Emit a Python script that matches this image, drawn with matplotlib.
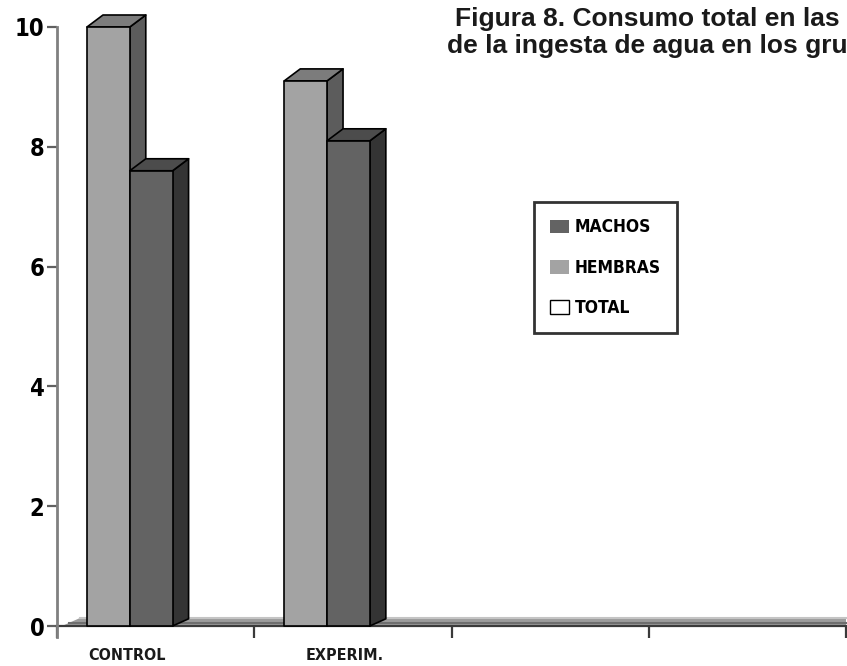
import matplotlib
matplotlib.use('Agg')
import matplotlib.pyplot as plt
from matplotlib.patches import Polygon, Patch

# data
groups = ['CONTROL', 'EXPERIM.', '', '']
hembras = [10.0, 9.1]
machos = [7.6, 8.1]
series_names = ['MACHOS', 'HEMBRAS', 'TOTAL']
yticks = [0, 2, 4, 6, 8, 10]
title_lines = ['Figura 8. Consumo total en las semanas',
               'de la ingesta de agua en los grupos']

# colours: front, top, side
c_hem = ['#a3a3a3', '#7c7c7c', '#5c5c5c']
c_mac = ['#636363', '#4c4c4c', '#343434']

W, H = 847, 666
fig = plt.figure(figsize=(W / 100, H / 100), dpi=100)
ax = fig.add_axes([57 / W, 40 / H, 789 / W, 599 / H])
ax.set_xlim(0, len(groups))
ax.set_ylim(0, 10)

# depth offsets in data units
px_x = 789 / len(groups)
px_y = 599 / 10
ddx = 16 / px_x
ddy = 12 / px_y

def bar3d(x0, w, h, cols, z):
    front = [(x0, 0), (x0 + w, 0), (x0 + w, h), (x0, h)]
    top = [(x0, h), (x0 + w, h), (x0 + w + ddx, h + ddy), (x0 + ddx, h + ddy)]
    side = [(x0 + w, 0), (x0 + w + ddx, ddy * 0.6), (x0 + w + ddx, h + ddy), (x0 + w, h)]
    for pts, c in ((side, cols[2]), (top, cols[1]), (front, cols[0])):
        ax.add_patch(Polygon(pts, closed=True, facecolor=c, edgecolor='black',
                             linewidth=1.2, joinstyle='round', zorder=z, clip_on=False))

# floor
fy = 8 / px_y
ax.add_patch(Polygon([(0.025, 0), (len(groups), 0), (len(groups), fy), (0.115, fy)],
                     closed=True, facecolor='#9c9c9c', edgecolor='none', zorder=1, clip_on=False))
ax.plot([0.115, len(groups)], [fy, fy], color='#c4c4c4', lw=1.5, zorder=1.5, clip_on=False)
ax.plot([0.06, len(groups)], [fy * 0.35, fy * 0.35], color='#6e6e6e', lw=1.5, zorder=1.5, clip_on=False)

bw = 0.217
for i in range(len(hembras)):
    x0 = i + 0.152
    bar3d(x0, bw, hembras[i], c_hem, 3)
    bar3d(x0 + bw, bw, machos[i], c_mac, 4)

# axes styling
for s in ['top', 'right']:
    ax.spines[s].set_visible(False)
ax.spines['left'].set_color('#808080')
ax.spines['left'].set_linewidth(2)
ax.spines['left'].set_bounds(-0.18, 10)
ax.spines['bottom'].set_color('#3a3a3a')
ax.spines['bottom'].set_linewidth(1.6)
ax.spines['bottom'].set_zorder(2)

ax.set_yticks(yticks)
ax.set_yticklabels([str(v) for v in yticks], fontsize=17, fontweight='bold',
                   fontstretch='condensed', family='DejaVu Sans')
ax.tick_params(axis='y', length=7.5, width=1.6, color='#606060', pad=1.5)

ax.set_xticks(range(len(groups) + 1))
ax.set_xticklabels([])
ax.tick_params(axis='x', length=8.5, width=1.6, color='#3a3a3a', direction='out')

label_x = [0.355, 1.46]
for i, lx in enumerate(label_x):
    ax.text(lx, -0.5, groups[i], ha='center', va='center', fontsize=11.5,
            fontweight='bold', fontstretch='condensed', family='DejaVu Sans',
            color='#1a1a1a', clip_on=False)

# legend
handles = [Patch(facecolor=c_mac[0], edgecolor='none'),
           Patch(facecolor=c_hem[0], edgecolor='none'),
           Patch(facecolor='white', edgecolor='black', linewidth=1)]
leg = ax.legend(handles, series_names, loc='upper left',
                bbox_to_anchor=(534 / W, 1 - 202 / H), bbox_transform=fig.transFigure,
                fancybox=False, framealpha=1, edgecolor='#333333',
                handlelength=1.05, handleheight=0.85, handletextpad=0.35,
                labelspacing=1.28, borderpad=0.95, borderaxespad=0,
                prop={'family': 'DejaVu Sans', 'weight': 'bold', 'stretch': 'condensed', 'size': 12.5})
leg.get_frame().set_linewidth(2)

# title (runs off the right edge like the original)
fig.text(455 / W, 1 - 26 / H, title_lines[0], ha='left', va='baseline',
         fontsize=19, fontweight='bold', family='Liberation Sans', color='#1a1a1a')
fig.text(447 / W, 1 - 53 / H, title_lines[1], ha='left', va='baseline',
         fontsize=19, fontweight='bold', family='Liberation Sans', color='#1a1a1a')

fig.savefig('out.png', dpi=100)
